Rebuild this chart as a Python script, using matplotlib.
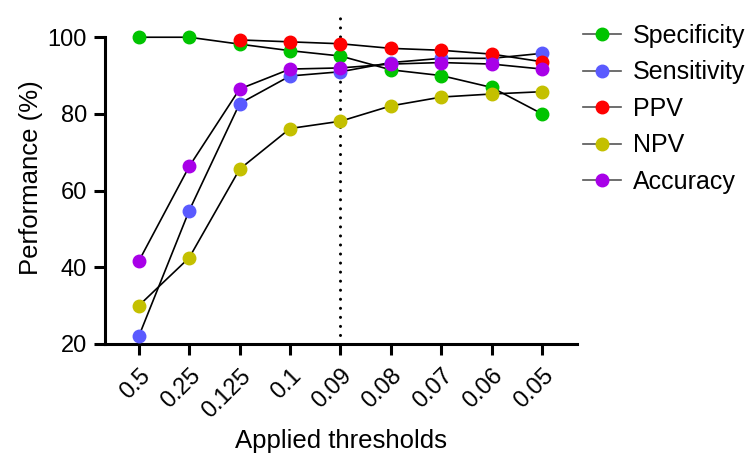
import matplotlib
matplotlib.use("Agg")
import matplotlib.pyplot as plt
from matplotlib.lines import Line2D

plt.rcParams['font.family'] = ['Liberation Sans', 'DejaVu Sans']

thresholds = ["0.5", "0.25", "0.125", "0.1", "0.09", "0.08", "0.07", "0.06", "0.05"]
specificity = [100.0, 100.0, 98.2, 96.5, 95.1, 91.5, 90.0, 86.9, 80.0]
sensitivity = [22.0, 54.8, 82.7, 89.9, 91.0, 93.4, 94.5, 94.5, 95.8]
ppv = [None, None, 99.3, 98.8, 98.3, 97.1, 96.6, 95.6, 93.6]
npv = [30.0, 42.5, 65.6, 76.2, 78.1, 82.1, 84.4, 85.2, 85.8]
accuracy = [41.6, 66.3, 86.5, 91.7, 92.0, 93.0, 93.4, 93.0, 91.7]

series_names = ["Specificity", "Sensitivity", "PPV", "NPV", "Accuracy"]
series_values = [specificity, sensitivity, ppv, npv, accuracy]
colors = ["#00c400", "#5a5aff", "#ff0000", "#c4c000", "#a800e8"]
cutoff_index = 4

fig = plt.figure(figsize=(7.48, 4.59), dpi=100)
ax = fig.add_axes([105/748, 1-344/459, (577-105)/748, (344-10.4)/459])

x = list(range(len(thresholds)))
for name, vals, c in zip(series_names, series_values, colors):
    xs = [xi for xi, v in zip(x, vals) if v is not None]
    ys = [v for v in vals if v is not None]
    ax.plot(xs, ys, color='black', lw=1.2, zorder=2)
for name, vals, c in zip(series_names, series_values, colors):
    xs = [xi for xi, v in zip(x, vals) if v is not None]
    ys = [v for v in vals if v is not None]
    ax.plot(xs, ys, ls='none', marker='o', ms=9, mfc=c, mec=c, zorder=3)

ax.plot([cutoff_index, cutoff_index], [20, 106.3], color='black', lw=2.2,
        linestyle=(0, (0.01, 2.95)), dash_capstyle='round', zorder=1)

ax.set_xlim(-0.67, 8.69)
ax.set_ylim(20, 107)
ax.set_yticks([20, 40, 60, 80, 100])
ax.spines['left'].set_bounds(20, 100)
ax.spines['top'].set_visible(False)
ax.spines['right'].set_visible(False)
for s in ['left', 'bottom']:
    ax.spines[s].set_linewidth(2.2)
ax.set_xticks(x)
ax.set_xticklabels(thresholds, rotation=45, ha='right', rotation_mode='anchor')
ax.tick_params(axis='both', width=2.2, length=8, labelsize=17, colors='black')
ax.tick_params(axis='x', pad=7)
ax.tick_params(axis='y', pad=5)
ax.set_ylabel("Performance (%)", fontsize=18.5, labelpad=3)
ax.set_xlabel("Applied thresholds", fontsize=18.5, labelpad=5)

handles = [Line2D([0], [0], color='#555555', lw=1.2, marker='o', ms=9, mfc=c, mec=c)
           for c in colors]
leg = fig.legend(handles, series_names, loc='upper left', bbox_to_anchor=(583/748, 1-24/459),
                 frameon=False, fontsize=18, handlelength=1.5, handletextpad=0.5,
                 labelspacing=0.5, borderaxespad=0, borderpad=0)

fig.savefig("out.png", dpi=100)
